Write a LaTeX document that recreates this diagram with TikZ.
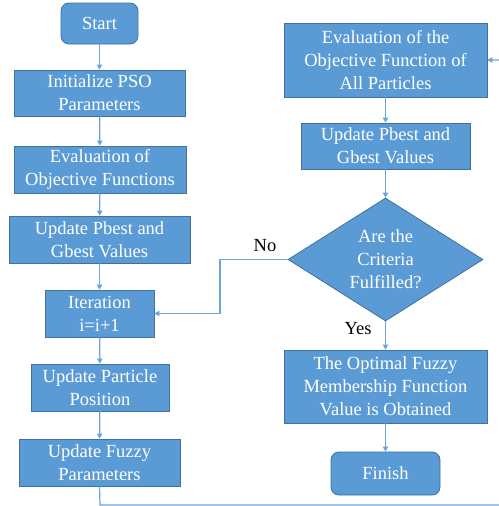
\documentclass[tikz,border=0pt]{standalone}
\usepackage{fontspec}
\setmainfont{Liberation Serif}
\usetikzlibrary{shapes.geometric,arrows.meta}
\definecolor{boxfill}{HTML}{5B9BD5}
\definecolor{boxline}{HTML}{41719C}
\definecolor{conn}{HTML}{6AA5DB}
\tikzset{
  x=1pt,y=-1pt,
  base/.style={fill=boxfill,draw=boxline,line width=0.8pt,text=white,align=center,
    font=\fontsize{18.5}{23}\selectfont,inner sep=0pt},
  procbox/.style={base,rectangle},
  termbox/.style={base,rectangle,rounded corners=8pt},
  decbox/.style={base,diamond},
  txt/.style={text=white,align=center,font=\fontsize{18.5}{23}\selectfont,inner sep=0pt},
  lbl/.style={text=black,font=\fontsize{18.5}{23}\selectfont,inner sep=0pt},
  conn/.style={draw=conn,line width=1.2pt,-{Triangle[length=5pt,width=5.5pt]}},
  connplain/.style={draw=conn,line width=1.2pt}
}
\begin{document}
\begin{tikzpicture}
\useasboundingbox (0,0) rectangle (498,506);
% left column
\node[termbox,minimum width=77pt,minimum height=41pt] (start) at (99.5,23.5) {Start};
\node[procbox,minimum width=171pt,minimum height=46pt] (init) at (99.5,93) {Initialize PSO\\Parameters};
\node[procbox,minimum width=172pt,minimum height=47pt] (eval) at (100,169.5) {Evaluation of\\Objective Functions};
\node[procbox,minimum width=181pt,minimum height=47pt] (upd) at (99.5,239.5) {Update Pbest and\\Gbest Values};
\node[procbox,minimum width=109pt,minimum height=47pt] (iter) at (99.5,313.5) {Iteration\\i=i+1};
\node[procbox,minimum width=138pt,minimum height=47pt] (pos) at (100,387.5) {Update Particle\\Position};
\node[procbox,minimum width=161pt,minimum height=47pt] (fuzzy) at (99.5,462.5) {Update Fuzzy\\Parameters};
% right column
\node[procbox,minimum width=203pt,minimum height=74pt] (evalall) at (385.5,60) {Evaluation of the\\Objective Function of\\All Particles};
\node[procbox,minimum width=169pt,minimum height=46pt] (upd2) at (385.5,146) {Update Pbest and\\Gbest Values};
\node[decbox,minimum width=195pt,minimum height=123pt] (crit) at (385.5,259.5) {};
\node[txt] (crittext) at (crit.center) {Are the\\Criteria\\Fulfilled?};
\node[procbox,minimum width=203pt,minimum height=73pt] (opt) at (385.5,386.5) {The Optimal Fuzzy\\Membership Function\\Value is Obtained};
\node[termbox,minimum width=109pt,minimum height=43pt] (finish) at (385.5,473.5) {Finish};
% coordinates for return paths
\coordinate (b1) at (100,505);
\coordinate (b2) at (500,505);
\coordinate (b3) at (500,60);
\coordinate (n1) at (220,259.5);
\coordinate (n2) at (220,313.5);
% connectors
\draw[conn] (start) -- (init);
\draw[conn] (init) -- (eval);
\draw[conn] (eval) -- (upd);
\draw[conn] (upd) -- (iter);
\draw[conn] (iter) -- (pos);
\draw[conn] (pos) -- (fuzzy);
\draw[conn] (fuzzy.south) -- (b1) -- (b2) -- (b3) -- (evalall.east);
\draw[conn] (evalall) -- (upd2);
\draw[conn] (upd2) -- (crit.north);
\draw[conn] (crit.west) -- (n1) -- (n2) -- (iter.east);
\draw[conn] (crit.south) -- (opt);
\draw[conn] (opt) -- (finish);
% labels
\node[lbl] (nolbl) at (265,246) {No};
\node[lbl] (yeslbl) at (358,329) {Yes};
\end{tikzpicture}
\end{document}
